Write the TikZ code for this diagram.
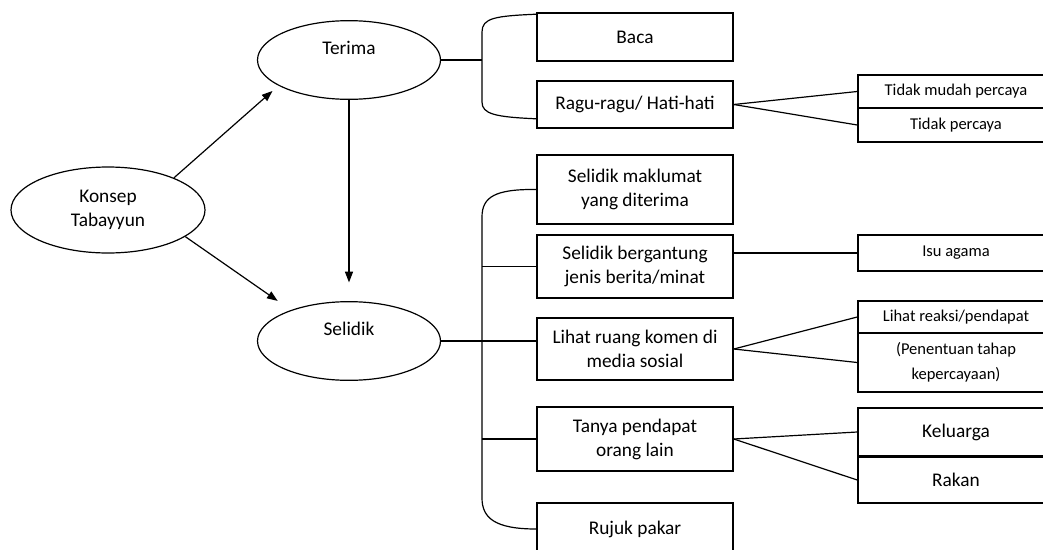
\documentclass[tikz,border=0pt]{standalone}
\usepackage{fontspec}
\setmainfont{Carlito}
\usetikzlibrary{shapes.geometric,arrows.meta}

\begin{document}
\begin{tikzpicture}[x=0.75pt, y=-0.75pt, line width=0.9pt,
  every node/.style = {draw, align=center, inner sep=0pt,
    font=\fontsize{14.5}{18}\selectfont},
  oval/.style = {ellipse, minimum width=137.25pt, minimum height=59pt},
  box/.style = {rectangle, line width=1.2pt, minimum width=147pt},
  small/.style = {font=\fontsize{12.4}{18.5}\selectfont},
  >={Triangle[length=8pt,width=6pt]}]
  \path[use as bounding box, fill=white] (0,0) rectangle (1043,550);
  % left: the three ellipses
  \node[ellipse, minimum width=145.5pt, minimum height=64.5pt] (konsep) at (108,210) {Konsep\\Tabayyun};
  \node[oval] (terima) at (349,60) {Terima\\~};
  \node[oval] (selidik) at (349,341) {Selidik\\~};
  \draw[->, shorten >=6pt] (konsep.26) -- (terima.200);
  \draw[->, shorten >=12pt] (konsep.-19) -- (selidik.152);
  \draw[->, shorten >=14pt] (terima.south) -- (selidik.north);
  % middle column
  \node[box, minimum height=36pt] (baca) at (635,37) {Baca};
  \node[box, minimum height=35.25pt] (ragu) at (635,104.5) {Ragu-ragu/ Hati-hati};
  \node[box, minimum height=51.75pt] (maklumat) at (635,189.5) {Selidik maklumat\\yang diterima};
  \node[box, minimum height=47.25pt] (bergantung) at (635,266.5) {Selidik bergantung\\jenis berita/minat};
  \node[box, minimum height=46.5pt] (lihat) at (635,349) {Lihat ruang komen di\\media sosial};
  \node[box, minimum height=48pt] (tanya) at (635,439) {Tanya pendapat\\orang lain};
  \node[box, minimum height=39pt] (rujuk) at (635,529) {Rujuk pakar};
  % right column
  \node[box, small, minimum height=24.75pt] (tmp) at (956,91.5) {Tidak mudah percaya};
  \node[box, small, minimum height=25.5pt] (tp) at (956,125) {Tidak percaya};
  \node[box, small, minimum height=27pt] (isu) at (956,253) {Isu agama};
  \node[box, small, minimum height=24pt] (reaksi) at (956,317) {Lihat reaksi/pendapat};
  \node[box, small, minimum height=44.25pt] (penentuan) at (956,362.5) {(Penentuan tahap\\kepercayaan)};
  \node[box, minimum height=36pt] (keluarga) at (956,432) {Keluarga};
  \node[box, minimum height=34.5pt] (rakan) at (956,480) {Rakan};
  % brackets
  \coordinate (tt) at (482,60);
  \coordinate (ts) at (482,345);
  \draw (terima.east) -- (tt);
  \draw ([yshift=-1.5pt]baca.north west) .. controls (495,16) and (482,18) .. (482,32)
    -- (482,102) .. controls (482,114) and (495,117) .. ([yshift=7.5pt]ragu.south west);
  \draw (maklumat.west) .. controls (495,189) and (482,197) .. (482,217)
    -- (482,498) .. controls (482,518) and (495,529) .. (rujuk.west);
  \draw (selidik.east) -- (selidik.east -| lihat.west);
  \draw (bergantung.west -| ts) -- (bergantung.west);
  \draw (tanya.west -| ts) -- (tanya.west);
  % links to the right column
  \draw (ragu.east) -- (tmp.west);
  \draw (ragu.east) -- (tp.west);
  \draw (isu.west -| bergantung.east) -- (isu.west);
  \draw (lihat.east) -- (reaksi.west);
  \draw (lihat.east) -- (penentuan.west);
  \draw (tanya.east) -- (keluarga.west);
  \draw (tanya.east) -- (rakan.west);
\end{tikzpicture}
\end{document}
